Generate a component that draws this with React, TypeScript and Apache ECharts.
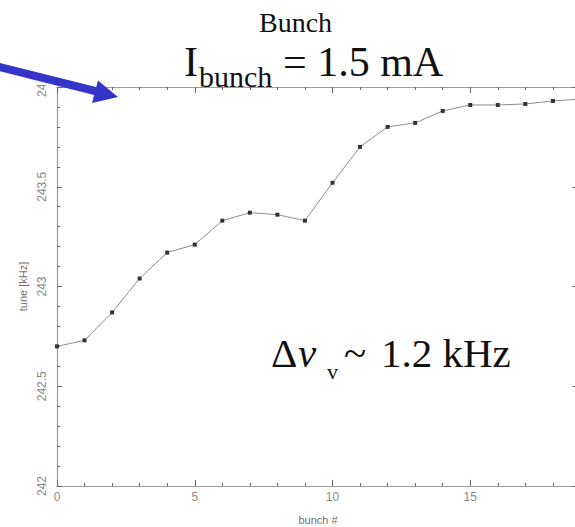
import React, { useEffect, useRef } from "react";
import * as echarts from "echarts";

// bunch number along the train
const bunch = [0, 1, 2, 3, 4, 5, 6, 7, 8, 9, 10, 11, 12, 13, 14, 15, 16, 17, 18, 19];
// measured vertical tune per bunch [kHz]
const tune = [
  242.7, 242.73, 242.87, 243.04, 243.17, 243.21, 243.33, 243.37, 243.36, 243.33,
  243.52, 243.7, 243.8, 243.82, 243.88, 243.91, 243.91, 243.915, 243.93, 243.94,
];
// axis ranges and labelled steps
const xRange = [0, 20];
const xLabelStep = 5;
const yRange = [242, 244];
const yLabelStep = 0.5;

const SERIF = "'Liberation Serif', 'Times New Roman', serif";
const SANS = "'Liberation Sans', Arial, sans-serif";
const AXIS_GRAY = "#9a9a9a";
const LABEL_GRAY = "#8a8a8a";
const TICK_GRAY = "#666";
const BLUE = "#3434c8";

export default function App() {
  const ref = useRef<HTMLDivElement>(null);

  useEffect(() => {
    if (!ref.current) return;
    const chart = echarts.init(ref.current, null, { renderer: "svg" });

    const axisLine = { show: true, onZero: false, lineStyle: { color: AXIS_GRAY, width: 1.2 } };
    const majorTick = { show: true, inside: true, length: 6, lineStyle: { color: TICK_GRAY, width: 1 } };
    const minorTick = { show: true, splitNumber: 5, length: 3, lineStyle: { color: TICK_GRAY, width: 1 } };

    chart.setOption({
      animation: false,
      backgroundColor: "#ffffff",
      grid: { left: 57, top: 87, bottom: 41, right: -33, outerBoundsMode: "none", containLabel: false },
      xAxis: [
        {
          type: "value",
          position: "bottom",
          min: xRange[0],
          max: xRange[1],
          interval: xLabelStep,
          axisLine,
          axisTick: majorTick,
          minorTick,
          axisLabel: {
            color: LABEL_GRAY,
            fontSize: 12,
            fontFamily: SANS,
            margin: 5,
            formatter: (v: number) => (v < xRange[1] ? String(v) : ""),
          },
          splitLine: { show: false },
          minorSplitLine: { show: false },
          name: "bunch #",
          nameLocation: "middle",
          nameGap: 28,
          nameTextStyle: { color: "#6f6f6f", fontSize: 11, fontFamily: SANS, padding: [0, 29, 0, 0] },
        },
        {
          type: "value",
          position: "top",
          min: xRange[0],
          max: xRange[1],
          interval: xLabelStep,
          axisLine,
          axisTick: majorTick,
          minorTick,
          axisLabel: { show: false },
          splitLine: { show: false },
          minorSplitLine: { show: false },
        },
      ],
      yAxis: [
        {
          type: "value",
          position: "left",
          min: yRange[0],
          max: yRange[1],
          interval: yLabelStep,
          axisLine,
          axisTick: { ...majorTick, length: 5 },
          minorTick,
          axisLabel: {
            color: LABEL_GRAY,
            fontSize: 12,
            fontFamily: SANS,
            rotate: 90,
            margin: 9,
            formatter: (v: number) => String(v),
          },
          splitLine: { show: false },
          minorSplitLine: { show: false },
          name: "tune [kHz]",
          nameLocation: "middle",
          nameGap: 23,
          nameTextStyle: { color: "#6f6f6f", fontSize: 11, fontFamily: SANS },
        },
        {
          // right frame edge sits at bunch 19
          type: "value",
          position: "right",
          offset: -27.5,
          min: yRange[0],
          max: yRange[1],
          interval: yLabelStep,
          axisLine,
          axisTick: { ...majorTick, length: 8 },
          axisLabel: { show: false },
          splitLine: { show: false },
        },
      ],
      series: [
        {
          type: "line",
          xAxisIndex: 0,
          yAxisIndex: 0,
          data: bunch.map((b, i) => [b, tune[i]]),
          lineStyle: { color: "#8c8c8c", width: 1 },
          symbol: "rect",
          symbolSize: 4,
          itemStyle: { color: "#333" },
          showSymbol: true,
        },
      ],
      graphic: [
        // blank strip above the plot frame on the left
        {
          type: "rect",
          z: 100,
          shape: { x: 24, y: 0, width: 30, height: 85 },
          style: { fill: "#ffffff" },
        },
        {
          type: "text",
          z: 110,
          x: 259,
          y: 22,
          style: { text: "Bunch", font: `28px ${SERIF}`, fill: "#111", align: "left", verticalAlign: "middle" },
        },
        {
          type: "text",
          z: 110,
          x: 184,
          y: 62,
          style: { text: "I", font: `42px ${SERIF}`, fill: "#111", align: "left", verticalAlign: "middle" },
        },
        {
          type: "text",
          z: 110,
          x: 199,
          y: 76,
          style: { text: "bunch", font: `30px ${SERIF}`, fill: "#111", align: "left", verticalAlign: "middle" },
        },
        {
          type: "text",
          z: 110,
          x: 283,
          y: 62,
          style: { text: "= 1.5 mA", font: `42px ${SERIF}`, fill: "#111", align: "left", verticalAlign: "middle" },
        },
        {
          type: "text",
          z: 110,
          x: 271,
          y: 353,
          style: { text: "Δ", font: `41px ${SERIF}`, fill: "#111", align: "left", verticalAlign: "middle" },
        },
        {
          type: "text",
          z: 110,
          x: 298,
          y: 353,
          style: { text: "ν", font: `italic 41px ${SERIF}`, fill: "#111", align: "left", verticalAlign: "middle" },
        },
        {
          type: "text",
          z: 110,
          x: 327,
          y: 371,
          style: { text: "v", font: `22px ${SERIF}`, fill: "#111", align: "left", verticalAlign: "middle" },
        },
        {
          type: "text",
          z: 110,
          x: 344,
          y: 353,
          style: { text: "~", font: `41px ${SERIF}`, fill: "#111", align: "left", verticalAlign: "middle" },
        },
        {
          type: "text",
          z: 110,
          x: 381,
          y: 353,
          style: { text: "1.2 kHz", font: `41px ${SERIF}`, fill: "#111", align: "left", verticalAlign: "middle" },
        },
        // pointer arrow
        {
          type: "line",
          z: 120,
          shape: { x1: -6, y1: 65.5, x2: 97, y2: 91.5 },
          style: { stroke: BLUE, lineWidth: 8 },
        },
        {
          type: "polygon",
          z: 121,
          shape: { points: [[118, 97], [98, 80.5], [92, 103]] },
          style: { fill: BLUE },
        },
      ],
    });

    return () => chart.dispose();
  }, []);

  return (
    <div
      ref={ref}
      style={{ position: "absolute", left: 0, top: 0, width: 575, height: 527 }}
    />
  );
}
